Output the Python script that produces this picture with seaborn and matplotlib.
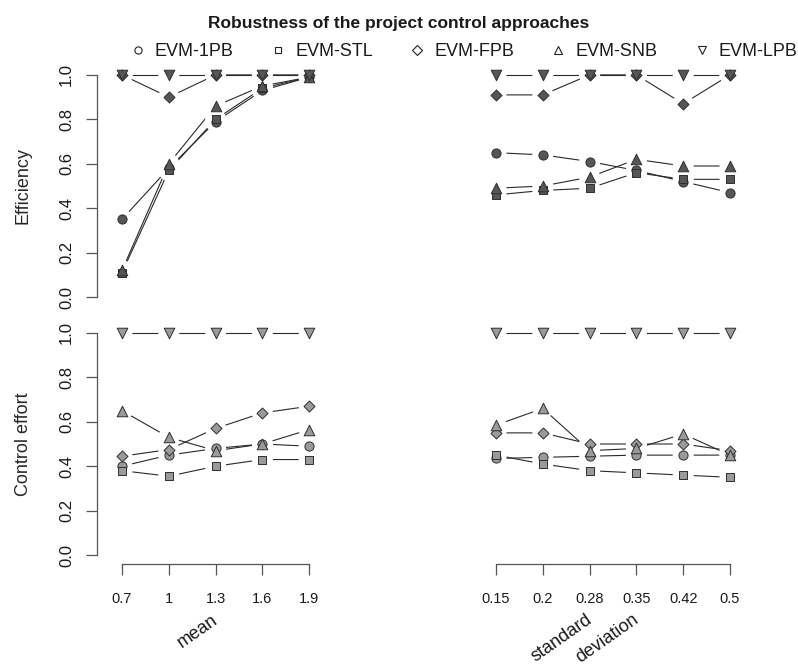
import numpy as np
import pandas as pd
import matplotlib
matplotlib.use("Agg")
import matplotlib.pyplot as plt
from matplotlib.lines import Line2D
import seaborn as sns

# ---------------- data ----------------
series = ["EVM-1PB", "EVM-STL", "EVM-FPB", "EVM-SNB", "EVM-LPB"]
mean_labels = ["0.7", "1", "1.3", "1.6", "1.9"]
sd_labels = ["0.15", "0.2", "0.28", "0.35", "0.42", "0.5"]

# Efficiency, by mean
eff_mean_1PB = [0.35, 0.58, 0.79, 0.93, 0.99]
eff_mean_STL = [0.11, 0.57, 0.80, 0.94, 0.99]
eff_mean_FPB = [1.00, 0.90, 1.00, 1.00, 1.00]
eff_mean_SNB = [0.12, 0.60, 0.86, 0.95, 0.99]
eff_mean_LPB = [1.00, 1.00, 1.00, 1.00, 1.00]
# Efficiency, by standard deviation
eff_sd_1PB = [0.65, 0.64, 0.61, 0.57, 0.52, 0.47]
eff_sd_STL = [0.46, 0.48, 0.49, 0.56, 0.53, 0.53]
eff_sd_FPB = [0.91, 0.91, 1.00, 1.00, 0.87, 1.00]
eff_sd_SNB = [0.49, 0.50, 0.54, 0.62, 0.59, 0.59]
eff_sd_LPB = [1.00, 1.00, 1.00, 1.00, 1.00, 1.00]
# Control effort, by mean
ce_mean_1PB = [0.40, 0.45, 0.48, 0.50, 0.49]
ce_mean_STL = [0.38, 0.355, 0.40, 0.43, 0.43]
ce_mean_FPB = [0.445, 0.475, 0.57, 0.64, 0.67]
ce_mean_SNB = [0.65, 0.53, 0.47, 0.50, 0.565]
ce_mean_LPB = [1.00, 1.00, 1.00, 1.00, 1.00]
# Control effort, by standard deviation
ce_sd_1PB = [0.435, 0.44, 0.445, 0.45, 0.45, 0.45]
ce_sd_STL = [0.45, 0.41, 0.38, 0.37, 0.36, 0.35]
ce_sd_FPB = [0.55, 0.55, 0.50, 0.50, 0.50, 0.47]
ce_sd_SNB = [0.585, 0.66, 0.47, 0.48, 0.545, 0.45]
ce_sd_LPB = [1.00, 1.00, 1.00, 1.00, 1.00, 1.00]

data = {
    ("eff", "mean"): [eff_mean_1PB, eff_mean_STL, eff_mean_FPB, eff_mean_SNB, eff_mean_LPB],
    ("eff", "sd"): [eff_sd_1PB, eff_sd_STL, eff_sd_FPB, eff_sd_SNB, eff_sd_LPB],
    ("ce", "mean"): [ce_mean_1PB, ce_mean_STL, ce_mean_FPB, ce_mean_SNB, ce_mean_LPB],
    ("ce", "sd"): [ce_sd_1PB, ce_sd_STL, ce_sd_FPB, ce_sd_SNB, ce_sd_LPB],
}
group_labels = {"mean": mean_labels, "sd": sd_labels}

rows = []
for (panel, grp), vals in data.items():
    for s, v in zip(series, vals):
        for i, y in enumerate(v):
            rows.append(dict(panel=panel, group=grp, pos=i, series=s, value=y))
df = pd.DataFrame(rows)

# ---------------- style ----------------
sns.set_theme(style="white")
plt.rcParams["font.family"] = ["Liberation Sans", "DejaVu Sans"]
plt.rcParams["text.color"] = "#1a1a1a"

markers = {"EVM-1PB": "o", "EVM-STL": "s", "EVM-FPB": "D", "EVM-SNB": "^", "EVM-LPB": "v"}
msize = {"EVM-1PB": 6.6, "EVM-STL": 5.6, "EVM-FPB": 5.6, "EVM-SNB": 7.6, "EVM-LPB": 7.6}
fill = {"eff": "#565656", "ce": "#9a9a9a"}
edge = "#2e2e2e"
line_col = "#2a2a2a"
axis_col = "#555555"

W, H = 798, 667
fig = plt.figure(figsize=(W / 100, H / 100), dpi=100)

px = 46.8  # pixels per category step
col_geom = {
    "mean": (97, -0.534, 4.5),
    "sd": (472.6, -0.5, 5.534),
}
row_geom = {"eff": 306, "ce": 564}  # bottom pixel of axes region
ax_h = 240

axes = {}
for panel in ["eff", "ce"]:
    for grp in ["mean", "sd"]:
        left, x0, x1 = col_geom[grp]
        width = (x1 - x0) * px
        bottom = row_geom[panel]
        ax = fig.add_axes([left / W, 1 - bottom / H, width / W, ax_h / H])
        ax.set_xlim(x0, x1)
        ax.set_ylim(-0.04, 1.04)
        axes[(panel, grp)] = ax

        sub = df[(df.panel == panel) & (df.group == grp)]
        # connecting lines
        sns.lineplot(data=sub, x="pos", y="value", units="series", estimator=None,
                     color=line_col, linewidth=0.8, ax=ax, legend=False, zorder=2)
        # white halos to create the gaps of R type="b"
        sns.scatterplot(data=sub, x="pos", y="value", marker="o", s=19.5 ** 2 * 0.6,
                        color="white", edgecolor="none", linewidth=0, ax=ax,
                        legend=False, zorder=3)
        # markers
        for s in series:
            ss = sub[sub.series == s]
            sns.scatterplot(data=ss, x="pos", y="value", marker=markers[s],
                            s=msize[s] ** 2, color=fill[panel], edgecolor=edge,
                            linewidth=0.7, ax=ax, legend=False, zorder=4)

        ax.set_xlabel("")
        ax.set_ylabel("")
        for sp in ax.spines.values():
            sp.set_visible(False)
        ax.tick_params(axis="both", colors=axis_col, labelcolor="#1a1a1a")

        if grp == "mean":
            ax.spines["left"].set_visible(True)
            ax.spines["left"].set_color(axis_col)
            ax.spines["left"].set_linewidth(0.9)
            ax.spines["left"].set_bounds(0, 1)
            ax.set_yticks([0, 0.2, 0.4, 0.6, 0.8, 1.0])
            ax.set_yticklabels(["0.0", "0.2", "0.4", "0.6", "0.8", "1.0"],
                               rotation=90, va="center", fontsize=12)
            ax.tick_params(axis="y", length=8, width=0.9, pad=8.5, left=True)
            ax.set_ylabel("Efficiency" if panel == "eff" else "Control effort", fontsize=13)
            ax.yaxis.set_label_coords(-0.278, 0.5)
        else:
            ax.set_yticks([])

        if panel == "ce":
            n = len(group_labels[grp])
            ax.spines["bottom"].set_visible(True)
            ax.spines["bottom"].set_color(axis_col)
            ax.spines["bottom"].set_linewidth(0.9)
            ax.spines["bottom"].set_bounds(0, n - 1)
            ax.set_xticks(range(n))
            ax.set_xticklabels(group_labels[grp], fontsize=10.5)
            ax.tick_params(axis="x", length=8, width=0.9, pad=12.5, bottom=True)
        else:
            ax.set_xticks([])

# rotated axis titles under the groups
ax_m = axes[("ce", "mean")]
ax_s = axes[("ce", "sd")]
for ax, pos, txt in [(ax_m, 2, "mean"), (ax_s, 2, "standard"), (ax_s, 3, "deviation")]:
    ax.annotate(txt, xy=(pos, 0), xycoords=("data", "axes fraction"),
                xytext=(4, -34), textcoords="offset points",
                rotation=35, ha="right", va="top", fontsize=13, color="#1a1a1a",
                annotation_clip=False)

# title
fig.text(0.5, 1 - 28 / H, "Robustness of the project control approaches",
         ha="center", va="baseline", fontsize=12.5, fontweight="bold", color="#1a1a1a")

# legend
handles = [Line2D([], [], linestyle="none", marker=markers[s], markersize=5.2 if s != "EVM-STL" else 4.6,
                  markerfacecolor="white", markeredgecolor="#222222", markeredgewidth=0.8)
           for s in series]
fig.legend(handles, series, loc="center left", bbox_to_anchor=(130.5 / W, 1 - 52 / H),
           ncol=5, frameon=False, fontsize=13, handlelength=0.8, handletextpad=0.55,
           columnspacing=2.05, borderpad=0, borderaxespad=0)

fig.savefig("out.png", dpi=100)
